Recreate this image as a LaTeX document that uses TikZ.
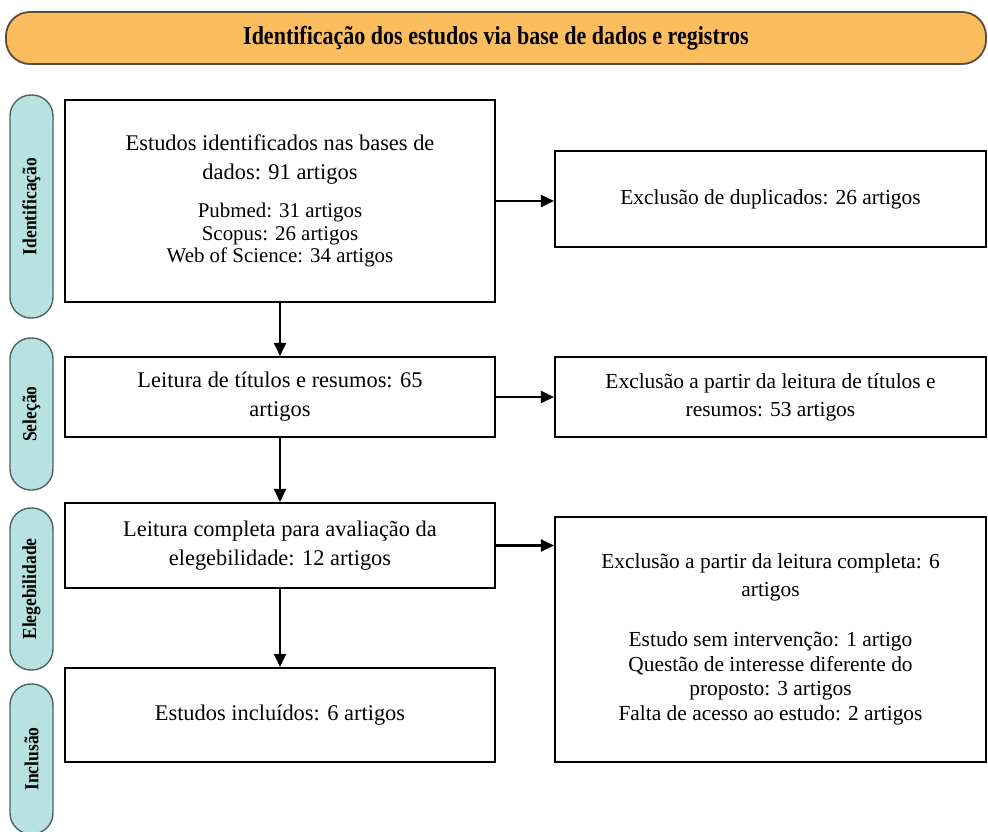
\documentclass[tikz,border=0pt]{standalone}
\usepackage{fontspec}
\setmainfont{Liberation Serif}
\newfontfamily\condbold[FakeStretch=0.85]{Liberation Serif Bold}
\newfontfamily\pillbold[FakeStretch=0.88]{Liberation Serif Bold}
\usetikzlibrary{arrows.meta}
\definecolor{headfill}{HTML}{FBBD5E}
\definecolor{headline}{HTML}{5C4B3A}
\definecolor{pillfill}{HTML}{B8E2E2}
\definecolor{pillline}{HTML}{4E6262}
\newcommand{\sublist}{\fontsize{21}{22}\selectfont}
\tikzset{
  box/.style={draw=black, line width=2.1bp, inner sep=0pt, align=center,
    font=\fontsize{22.5}{29}\selectfont},
  rbox/.style={box, font=\fontsize{21.5}{28}\selectfont},
  pill/.style={draw=pillline, fill=pillfill, line width=1.4bp, rotate=90,
    rounded corners=21bp, minimum height=43bp, inner sep=0pt,
    font=\pillbold\fontsize{20}{22}\selectfont},
  arr/.style={line width=2.4bp, -{Triangle[length=13bp,width=12bp]}}
}
\begin{document}
\begin{tikzpicture}[x=1bp,y=-1bp]
\useasboundingbox[fill=white] (0,0) rectangle (988,832);
% header
\node[draw=headline, fill=headfill, line width=1.8bp, rounded corners=24bp,
  minimum width=980bp, minimum height=52bp, inner sep=0pt,
  font=\condbold\fontsize{26}{28}\selectfont] (head) at (496,38)
  {Identificação dos estudos via base de dados e registros};
% side pills
\node[pill, minimum width=223bp] (p1) at (31.5,206.5) {Identificação};
\node[pill, minimum width=152bp] (p2) at (31.5,414) {Seleção};
\node[pill, minimum width=162bp] (p3) at (31.5,589) {Elegebilidade};
\node[pill, minimum width=150bp] (p4) at (31.5,759) {Inclusão};
% main boxes
\node[box, minimum width=430bp, minimum height=202bp] (b1) at (280,201)
  {Estudos identificados nas bases de\\ dados: 91 artigos\\[9bp]
   \sublist Pubmed: 31 artigos\\[-6bp] \sublist Scopus: 26 artigos\\[-6bp] \sublist Web of Science: 34 artigos};
\node[box, minimum width=430bp, minimum height=80bp] (b2) at (280,397)
  {Leitura de títulos e resumos: 65\\ artigos};
\node[box, minimum width=430bp, minimum height=85bp] (b3) at (280,545.5)
  {Leitura completa para avaliação da\\ elegebilidade: 12 artigos};
\node[box, minimum width=430bp, minimum height=94bp] (b4) at (280,715)
  {Estudos incluídos: 6 artigos};
% right boxes
\node[rbox, minimum width=431bp, minimum height=96bp] (r1) at (770.5,199)
  {Exclusão de duplicados: 26 artigos};
\node[rbox, minimum width=431bp, minimum height=80bp] (r2) at (770.5,397)
  {Exclusão a partir da leitura de títulos e\\ resumos: 53 artigos};
\node[rbox, minimum width=431bp, minimum height=245bp] (r3) at (770.5,639.5)
  {Exclusão a partir da leitura completa: 6\\ artigos\\[22bp]
   Estudo sem intervenção: 1 artigo\\[-3bp] Questão de interesse diferente do\\[-3bp]
   proposto: 3 artigos\\[-3bp] Falta de acesso ao estudo: 2 artigos};
% connectors
\draw[arr] (b1.south) -- (b2.north);
\draw[arr] (b2.south) -- (b3.north);
\draw[arr] (b3.south) -- (b4.north);
\draw[arr] (b1.east) -- (b1.east -| r1.west);
\draw[arr] (b2.east) -- (r2.west);
\draw[arr] (b3.east) -- (b3.east -| r3.west);
\end{tikzpicture}
\end{document}
